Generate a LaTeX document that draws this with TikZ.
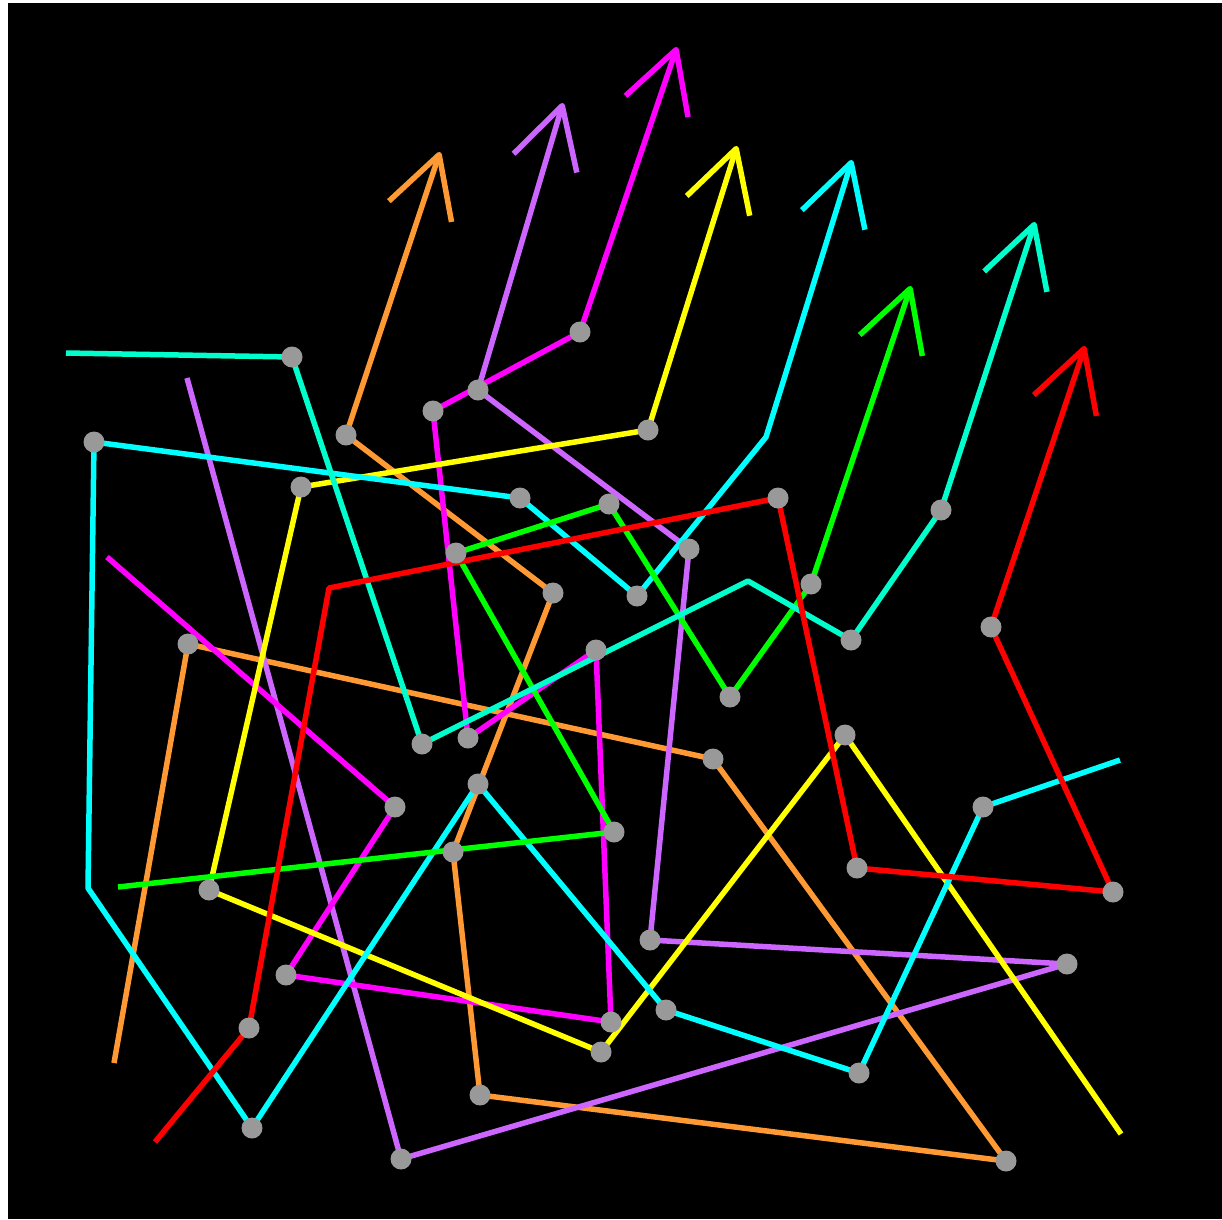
\documentclass[tikz,border=0pt]{standalone}
\usetikzlibrary{arrows.meta}
\definecolor{cOrange}{RGB}{255,153,51}
\definecolor{cPurple}{RGB}{204,102,255}
\definecolor{cMagenta}{RGB}{255,0,255}
\definecolor{cYellow}{RGB}{255,255,0}
\definecolor{cCyan}{RGB}{0,255,255}
\definecolor{cGreen}{RGB}{0,255,0}
\definecolor{cAqua}{RGB}{0,255,204}
\definecolor{cRed}{RGB}{255,0,0}
\definecolor{cDot}{RGB}{153,153,153}
\tikzset{
  trail/.style={line width=5.5pt, line join=round, -{Straight Barb[length=60pt,width=66pt,line join=round]}},
  dot/.style={circle, fill=cDot, draw=none, minimum size=21pt, inner sep=0pt}
}
\begin{document}
\begin{tikzpicture}[x=1pt,y=-1pt]
\useasboundingbox (0,0) rectangle (1222,1219);
\fill[white] (0,0) rectangle (1222,1219);
\fill[black] (8,3) rectangle (1222,1219);
% orange
\coordinate (oS) at (114,1063);
\coordinate (o1) at (188,644);
\coordinate (o2) at (713,759);
\coordinate (o3) at (1006,1161);
\coordinate (o4) at (480,1095);
\coordinate (o5) at (453,852);
\coordinate (o6) at (553,593);
\coordinate (o7) at (346,435);
\coordinate (oT) at (440,152);
% purple
\coordinate (pS) at (187,378);
\coordinate (p1) at (401,1159);
\coordinate (p2) at (1067,964);
\coordinate (p3) at (650,940);
\coordinate (p4) at (689,549);
\coordinate (p5) at (478,390);
\coordinate (pT) at (563,103);
% magenta
\coordinate (mS) at (107,557);
\coordinate (m1) at (395,807);
\coordinate (m2) at (286,975);
\coordinate (m3) at (611,1022);
\coordinate (m4) at (596,650);
\coordinate (m5) at (468,738);
\coordinate (m6) at (433,411);
\coordinate (m7) at (580,332);
\coordinate (mT) at (677,47);
% yellow
\coordinate (yS) at (1121,1134);
\coordinate (y1) at (845,735);
\coordinate (y2) at (601,1052);
\coordinate (y3) at (209,890);
\coordinate (y4) at (301,487);
\coordinate (y5) at (648,430);
\coordinate (yT) at (737,146);
% cyan
\coordinate (cS) at (1120,760);
\coordinate (c1) at (983,807);
\coordinate (c2) at (859,1073);
\coordinate (c3) at (666,1010);
\coordinate (c4) at (478,784);
\coordinate (c5) at (252,1128);
\coordinate (cB1) at (88,888);
\coordinate (c6) at (94,442);
\coordinate (c7) at (520,498);
\coordinate (c8) at (637,596);
\coordinate (cB2) at (766,437);
\coordinate (cT) at (852,160);
% green
\coordinate (gS) at (118,887);
\coordinate (g1) at (614,832);
\coordinate (g2) at (456,553);
\coordinate (g3) at (609,504);
\coordinate (g4) at (730,697);
\coordinate (g5) at (811,584);
\coordinate (gT) at (911,286);
% aquamarine
\coordinate (aS) at (66,353);
\coordinate (a1) at (292,357);
\coordinate (a2) at (422,744);
\coordinate (aB) at (748,581);
\coordinate (a3) at (851,640);
\coordinate (a4) at (941,510);
\coordinate (aT) at (1035,222);
% red
\coordinate (rS) at (155,1142);
\coordinate (r1) at (249,1028);
\coordinate (rB) at (329,588);
\coordinate (r2) at (778,498);
\coordinate (r3) at (857,868);
\coordinate (r4) at (1113,892);
\coordinate (r5) at (991,627);
\coordinate (rT) at (1085,346);

\draw[trail, cOrange] (oS) -- (o1) -- (o2) -- (o3) -- (o4) -- (o5) -- (o6) -- (o7) -- (oT);
\draw[trail, cPurple] (pS) -- (p1) -- (p2) -- (p3) -- (p4) -- (p5) -- (pT);
\draw[trail, cMagenta] (mS) -- (m1) -- (m2) -- (m3) -- (m4) -- (m5) -- (m6) -- (m7) -- (mT);
\draw[trail, cYellow] (yS) -- (y1) -- (y2) -- (y3) -- (y4) -- (y5) -- (yT);
\draw[trail, cCyan] (cS) -- (c1) -- (c2) -- (c3) -- (c4) -- (c5) -- (cB1) -- (c6) -- (c7) -- (c8) -- (cB2) -- (cT);
\draw[trail, cGreen] (gS) -- (g1) -- (g2) -- (g3) -- (g4) -- (g5) -- (gT);
\draw[trail, cAqua] (aS) -- (a1) -- (a2) -- (aB) -- (a3) -- (a4) -- (aT);
\draw[trail, cRed] (rS) -- (r1) -- (rB) -- (r2) -- (r3) -- (r4) -- (r5) -- (rT);

\foreach \n in {o1,o2,o3,o4,o5,o6,o7,p1,p2,p3,p4,p5,m1,m2,m3,m4,m5,m6,m7,y1,y2,y3,y4,y5,c1,c2,c3,c4,c5,c6,c7,c8,g1,g2,g3,g4,g5,a1,a2,a3,a4,r1,r2,r3,r4,r5}
  \node[dot] (d\n) at (\n) {};
\end{tikzpicture}
\end{document}
